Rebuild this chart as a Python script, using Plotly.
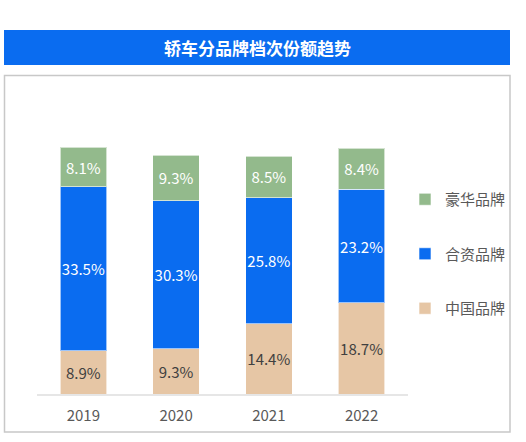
import plotly.graph_objects as go

# 数据
years = ["2019", "2020", "2021", "2022"]
china = [8.9, 9.3, 14.4, 18.7]      # 中国品牌
joint = [33.5, 30.3, 25.8, 23.2]    # 合资品牌
luxury = [8.1, 9.3, 8.5, 8.4]       # 豪华品牌

W, H = 526, 442
font_family = "Noto Sans CJK SC"

fig = go.Figure()
series = [
    ("中国品牌", china, "#E6C6A5", "#404040", 3),
    ("合资品牌", joint, "#0A6CF0", "white", 2),
    ("豪华品牌", luxury, "#93BA8C", "white", 1),
]
for name, vals, color, tcolor, rank in series:
    fig.add_trace(go.Bar(
        x=years, y=vals, name=name, width=0.5,
        marker=dict(color=color, line=dict(color="rgba(255,255,255,0.6)", width=1)),
        text=[f"{v:.1f}%" for v in vals],
        textposition="inside", insidetextanchor="middle", textangle=0,
        constraintext="none",
        textfont=dict(size=15, color=tcolor, family=font_family),
        legendgroup=name, legendrank=rank,
    ))

fig.update_layout(
    width=W, height=H,
    barmode="stack",
    margin=dict(l=0, r=0, t=0, b=0),
    paper_bgcolor="white", plot_bgcolor="white",
    font=dict(family=font_family, color="#595959"),
    xaxis=dict(domain=[37 / W, 408 / W], showgrid=False, showline=True,
               linecolor="#E6E6E6", linewidth=2, ticks="", ticklabelstandoff=7,
               tickfont=dict(size=15, color="#595959")),
    yaxis=dict(domain=[48 / H, 342 / H], range=[0, 60.2], visible=False),
    legend=dict(x=405 / W, y=(H - 183) / H, xanchor="left", yanchor="top",
                traceorder="grouped", tracegroupgap=32, itemwidth=30,
                font=dict(size=15, color="#595959"), bgcolor="rgba(0,0,0,0)"),
    showlegend=True,
)

# 标题栏
fig.add_shape(type="rect", xref="paper", yref="paper",
              x0=4 / W, x1=510 / W, y0=(H - 65) / H, y1=(H - 30) / H,
              fillcolor="#0A6CF0", line=dict(width=0), layer="below")
fig.add_annotation(text="<b>轿车分品牌档次份额趋势</b>", xref="paper", yref="paper",
                   x=257 / W, y=(H - 47.5) / H, yanchor="middle", showarrow=False,
                   font=dict(size=17, color="white", family=font_family))
# 外框
fig.add_shape(type="rect", xref="paper", yref="paper",
              x0=4.5 / W, x1=510 / W, y0=(H - 432) / H, y1=(H - 75.5) / H,
              line=dict(color="#C8C8C8", width=1.5), layer="below")

fig.write_html("out.html", config={"displayModeBar": False},
               post_script="document.body.style.margin='0';")
